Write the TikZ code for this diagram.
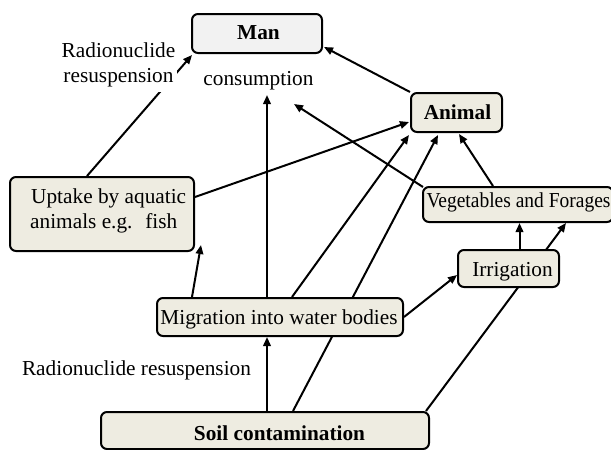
\documentclass[tikz,border=0pt]{standalone}
\usepackage{fontspec}
\setmainfont{Liberation Serif}
\usetikzlibrary{arrows.meta,backgrounds}
\definecolor{boxfill}{HTML}{EEECE1}
\definecolor{manfill}{HTML}{F2F2F2}
\begin{document}
\begin{tikzpicture}[x=1pt,y=-1pt,
  box/.style={draw=black, line width=2pt, rounded corners=6pt, fill=boxfill, inner sep=0pt},
  lbl/.style={font=\fontsize{21.3}{25}\selectfont, inner sep=0pt, anchor=base},
  arr/.style={line width=2pt, -{Triangle[length=9pt,width=7.5pt]}},
  ln/.style={line width=2pt}]
\useasboundingbox (0,0) rectangle (611,450);

% boxes
\node[box, fill=manfill, minimum width=130pt, minimum height=39pt] (man) at (257,33.5) {};
\node[box, minimum width=91pt, minimum height=39pt] (animal) at (456.5,112.5) {};
\node[box, minimum width=190pt, minimum height=35pt] (veg) at (518,204.5) {};
\node[box, minimum width=101pt, minimum height=37pt] (irr) at (508.5,268.5) {};
\node[box, minimum width=184pt, minimum height=74pt] (uptake) at (102,214) {};
\node[box, minimum width=246pt, minimum height=38pt] (mig) at (280,317) {};
\node[box, minimum width=328pt, minimum height=37pt] (soil) at (265,430.5) {};

% texts
\node[lbl] (mantext) at (258.5,39) {\bfseries Man};
\node[lbl] (animaltext) at (457.5,119) {\bfseries Animal};
\node[lbl] (vegtext) at (518.5,207) {\scalebox{0.915}[1]{Vegetables and Forages}};
\node[lbl] (irrtext) at (512.5,276) {Irrigation};
\node[lbl, anchor=base west] (uptext1) at (31,203) {Uptake by aquatic};
\node[lbl, anchor=base west] (uptext2) at (30,228) {animals e.g.\hspace{0.6em}fish};
\node[lbl] (migtext) at (279,324) {Migration into water bodies};
\node[lbl] (soiltext) at (279.5,440) {\bfseries Soil contamination};
\node[lbl] (cons) at (258.5,85) {consumption};
\node[lbl] (resusp2) at (136.5,375) {Radionuclide resuspension};

% free ends
\coordinate (constip) at (267,95);
\coordinate (constip2) at (294,104);

% connectors
\begin{pgfonlayer}{background}
\draw[arr] ([xshift=-15pt]uptake.north) -- ([xshift=1pt,yshift=-1pt]man.south west);
\draw[arr] ([xshift=-13pt]mig.north) -- (constip);
\draw[arr] ([xshift=1pt,yshift=-1pt]veg.north west) -- (constip2);
\draw[arr] ([yshift=17pt]uptake.east) -- ([yshift=-9.5pt,xshift=-1pt]animal.west);
\draw[arr] (animal.north west) -- ([yshift=-13.5pt,xshift=1pt]man.east);
\draw[arr] ([xshift=12pt]mig.north) -- ([xshift=-1pt,yshift=-2pt]animal.south west);
\draw[arr] ([xshift=28pt]soil.north) -- ([xshift=-18.5pt,yshift=-2pt]animal.south);
\draw[arr] ([xshift=-88pt]mig.north) -- ([xshift=6pt,yshift=7pt]uptake.south east);
\draw[arr] ([xshift=-25pt]veg.north) -- ([xshift=2.5pt,yshift=-1pt]animal.south);
\draw[arr] ([xshift=11pt]irr.north) -- ([xshift=11pt]irr.north |- veg.south);
\draw[arr] ([xshift=-4pt]soil.north east) -- ([xshift=48pt]veg.south);
\draw[arr] (mig.east) -- ([yshift=-6.5pt]irr.west);
\draw[arr] ([xshift=2pt]soil.north) -- ([xshift=-13pt]mig.south);
\end{pgfonlayer}

\node[font=\fontsize{21.3}{25}\selectfont, align=center, fill=white, inner xsep=2pt, inner ysep=5pt] (resusp1) at (118.5,64.5) {Radionuclide\\resuspension};
\end{tikzpicture}
\end{document}
